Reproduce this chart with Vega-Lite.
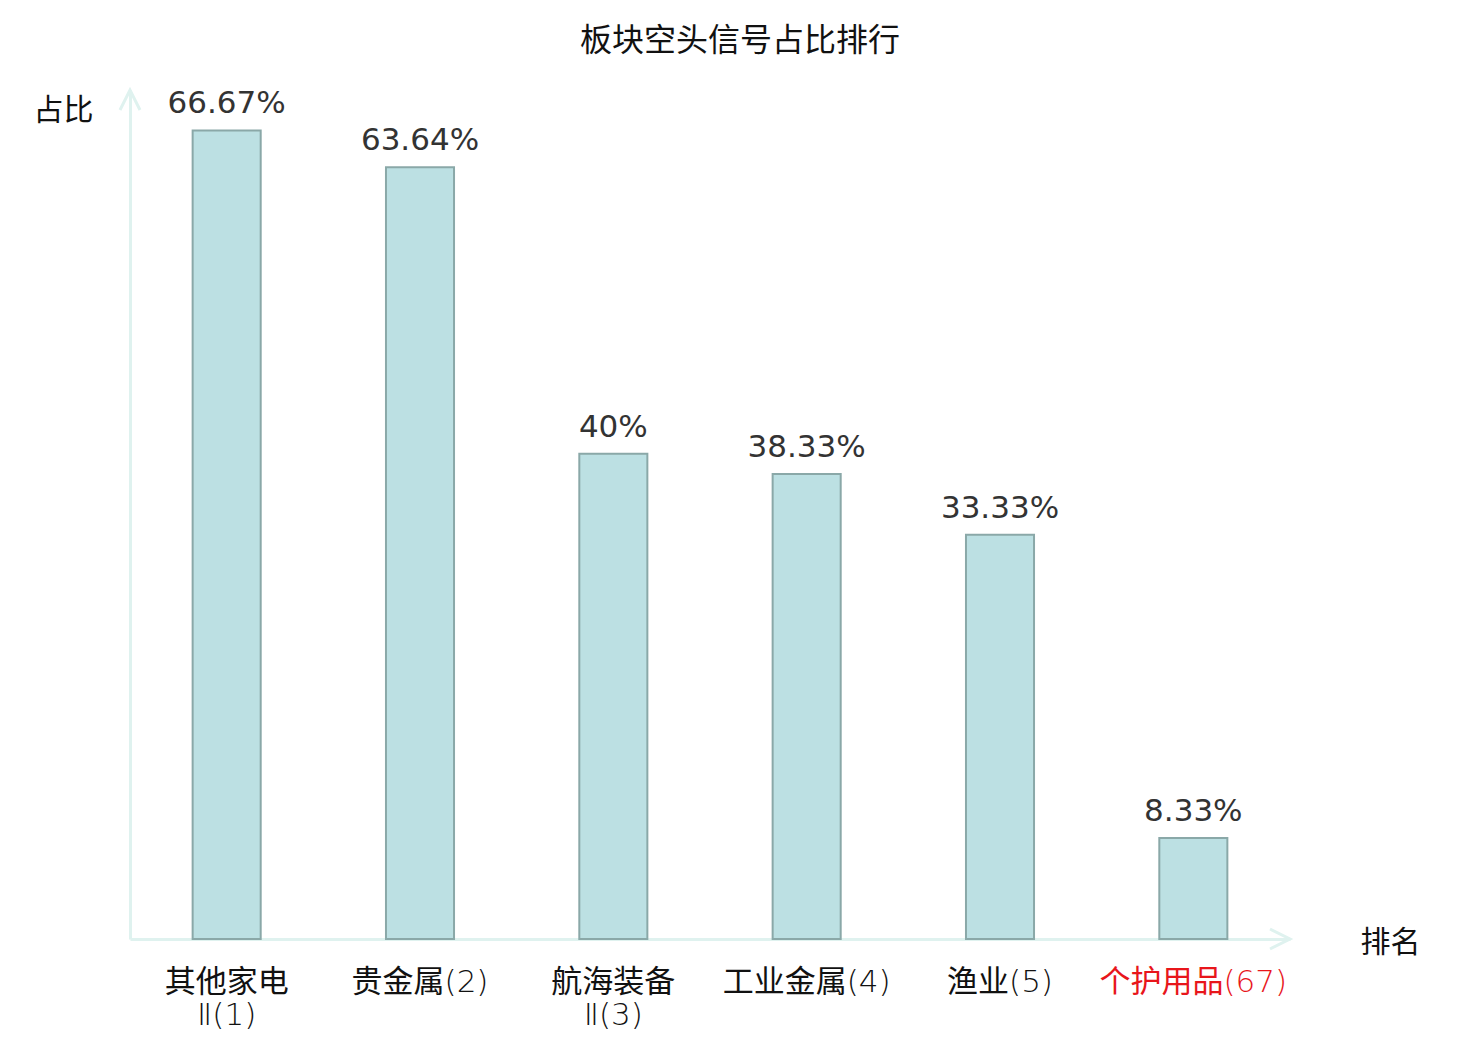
{
  "$schema": "https://vega.github.io/schema/vega-lite/v6.json",
  "width": 1160,
  "height": 849,
  "autosize": {"type": "none"},
  "padding": {"left": 130, "top": 90, "right": 190, "bottom": 101},
  "background": "white",
  "config": {
    "font": "DejaVu Sans, Noto Sans CJK SC",
    "view": {"stroke": null}
  },
  "title": {
    "text": "板块空头信号占比排行",
    "fontSize": 32,
    "fontWeight": "normal",
    "color": "#111111",
    "font": "Noto Sans CJK SC",
    "anchor": "middle",
    "dx": 30,
    "offset": 26
  },
  "datasets": {
    "bars": [
      {"sector": "其他家电\nⅡ(1)", "value": 66.67, "label": "66.67%"},
      {"sector": "贵金属(2)", "value": 63.64, "label": "63.64%"},
      {"sector": "航海装备\nⅡ(3)", "value": 40, "label": "40%"},
      {"sector": "工业金属(4)", "value": 38.33, "label": "38.33%"},
      {"sector": "渔业(5)", "value": 33.33, "label": "33.33%"},
      {"sector": "个护用品(67)", "value": 8.33, "label": "8.33%"}
    ],
    "arrows": [
      {"ax": 1, "ay": 0, "dir": "x"},
      {"ax": 0, "ay": 70, "dir": "y"}
    ]
  },
  "layer": [
    {
      "layer": [
        {
          "data": {"name": "bars"},
          "mark": {"type": "bar", "fill": "#bce0e3", "stroke": "#8aa8a8", "strokeWidth": 2},
          "encoding": {
            "x": {
              "field": "sector",
              "type": "nominal",
              "sort": null,
              "scale": {"paddingInner": 0.648, "paddingOuter": 0.324},
              "axis": {
                "title": "排名",
                "titleFont": "Noto Sans CJK SC",
                "titleFontSize": 30,
                "titleFontWeight": "normal",
                "titleColor": "#111111",
                "titleAngle": 0,
                "titleAlign": "center",
                "titleBaseline": "middle",
                "titleX": 1260,
                "titleY": 3,
                "labelAngle": 0,
                "labelFont": "DejaVu Sans Light, DejaVu Sans ExtraLight, Noto Sans CJK SC",
                "labelFontWeight": "normal",
                "labelFontSize": 31,
                "labelPadding": 28,
                "labelBaseline": "top",
                "labelLineHeight": 33,
                "labelLimit": 0,
                "labelExpr": "split(datum.label, '\\n')",
                "labelColor": {
                  "condition": {"test": "datum.value == '个护用品(67)'", "value": "#e8161b"},
                  "value": "#111111"
                },
                "ticks": false,
                "domainColor": "#dff2ef",
                "domainWidth": 3,
                "grid": false
              }
            },
            "y": {
              "field": "value",
              "type": "quantitative",
              "scale": {"domain": [0, 70], "nice": false},
              "axis": {
                "title": "占比",
                "titleFont": "Noto Sans CJK SC",
                "titleFontSize": 30,
                "titleFontWeight": "normal",
                "titleColor": "#111111",
                "titleAngle": 0,
                "titleAlign": "center",
                "titleBaseline": "middle",
                "titleX": -67,
                "titleY": 20,
                "labels": false,
                "ticks": false,
                "grid": false,
                "domainColor": "#dff2ef",
                "domainWidth": 3
              }
            }
          }
        },
        {
          "data": {"name": "bars"},
          "mark": {"type": "text", "baseline": "bottom", "dy": -10, "fontSize": 31, "color": "#333333", "font": "DejaVu Sans"},
          "encoding": {
            "x": {"field": "sector", "type": "nominal", "sort": null},
            "y": {"field": "value", "type": "quantitative"},
            "text": {"field": "label"}
          }
        }
      ]
    },
    {
      "data": {"name": "arrows"},
      "transform": [{"filter": "datum.dir == 'x'"}],
      "mark": {
        "type": "point",
        "shape": "M-1,-0.5L0,0L-1,0.5",
        "size": 1600,
        "filled": false,
        "stroke": "#dff2ef",
        "strokeWidth": 3,
        "opacity": 1
      },
      "encoding": {
        "x": {"field": "ax", "type": "quantitative", "scale": {"domain": [0, 1], "nice": false}, "axis": null},
        "y": {"field": "ay", "type": "quantitative"}
      }
    },
    {
      "data": {"name": "arrows"},
      "transform": [{"filter": "datum.dir == 'y'"}],
      "mark": {
        "type": "point",
        "shape": "M-0.5,1L0,0L0.5,1",
        "size": 1600,
        "filled": false,
        "stroke": "#dff2ef",
        "strokeWidth": 3,
        "opacity": 1
      },
      "encoding": {
        "x": {"field": "ax", "type": "quantitative", "scale": {"domain": [0, 1], "nice": false}, "axis": null},
        "y": {"field": "ay", "type": "quantitative"}
      }
    }
  ],
  "resolve": {"scale": {"x": "independent"}}
}
